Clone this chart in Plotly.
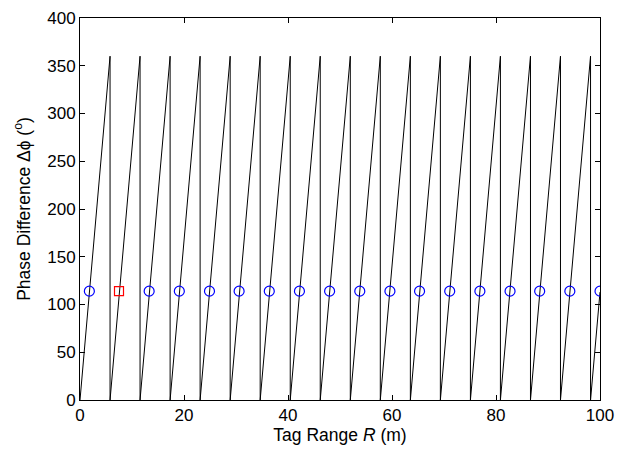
import plotly.graph_objects as go

wrap_R = [0, 5.78, 11.55, 17.33, 23.1, 28.88, 34.65, 40.43, 46.2, 51.98,
          57.75, 63.53, 69.3, 75.08, 80.85, 86.63, 92.4, 98.18]
phase_max = 360
end_R = 100
end_phase = 113

# Marker points (m, degrees)
circle_R = [1.8, 13.3, 19.1, 24.9, 30.6, 36.4, 42.2, 48.0, 53.8, 59.6,
            65.3, 71.1, 76.9, 82.7, 88.4, 94.2, 100.0]
circle_phase = [114] * len(circle_R)
square_R = [7.5]
square_phase = [114]

# build polyline vertices from the read wrap points
xs, ys = [], []
for i, r in enumerate(wrap_R):
    if i > 0:
        xs.append(r); ys.append(phase_max)
    xs.append(r); ys.append(0)
xs.append(end_R); ys.append(end_phase)

fig = go.Figure()
fig.add_trace(go.Scatter(x=xs, y=ys, mode="lines",
                         line=dict(color="black", width=1), showlegend=False))
fig.add_trace(go.Scatter(x=circle_R, y=circle_phase, mode="markers",
                         marker=dict(symbol="circle-open", size=10, color="blue",
                                     line=dict(width=1.2)), showlegend=False))
fig.add_trace(go.Scatter(x=square_R, y=square_phase, mode="markers",
                         marker=dict(symbol="square-open", size=9, color="red",
                                     line=dict(width=1.2)), showlegend=False))

font = dict(family="Liberation Sans, Arial, sans-serif", size=17, color="black")
title_font = dict(family="Liberation Sans, Arial, sans-serif", size=17.5, color="black")
axis_common = dict(showgrid=False, zeroline=False, showline=True, linecolor="black",
                   linewidth=1, mirror="ticks", ticks="inside", ticklen=5,
                   tickcolor="black", tickfont=font)

fig.update_layout(
    width=632, height=449,
    margin=dict(l=80, r=32, t=9, b=48),
    paper_bgcolor="white", plot_bgcolor="white",
    font=font,
    xaxis=dict(range=[0, 100], tickvals=[0, 20, 40, 60, 80, 100],
               title=dict(text="Tag Range <i>R</i> (m)", font=title_font, standoff=2),
               **axis_common),
    yaxis=dict(range=[0, 400], tickvals=list(range(0, 401, 50)),
               title=dict(text="Phase Difference Δϕ (<sup>o</sup>)", font=title_font, standoff=12),
               **axis_common),
)

fig.write_html("out.html")
